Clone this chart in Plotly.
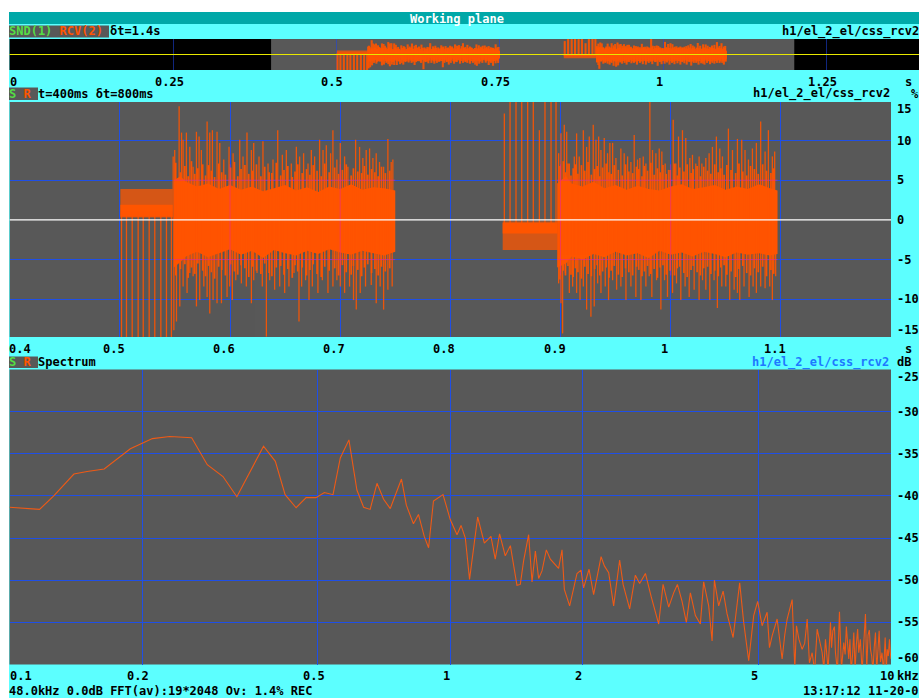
import plotly.graph_objects as go
import numpy as np

W, H = 919, 698
FONT = "DejaVu Sans Mono"
CYAN = "#5CFFFF"
TEAL = "#00A8A8"
GRAY = "#585858"
ORANGE = "#FF5500"
BLUE = "#1F4FE6"
GREEN = "#55DD44"
LINKBLUE = "#1E78FF"

# ---------------- data ----------------
overview_ticks = [0, 0.25, 0.5, 0.75, 1, 1.25]
overview_labels = ["0", "0.25", "0.5", "0.75", "1", "1.25"]
overview_span = 1.3907
view_start = 0.4
view_len = 0.8

time_ticks = [0.4, 0.5, 0.6, 0.7, 0.8, 0.9, 1.0, 1.1]
time_labels = ["0.4", "0.5", "0.6", "0.7", "0.8", "0.9", "1", "1.1"]
amp_ticks = [15, 10, 5, 0, -5, -10, -15]
amp_labels = ["15", "10", "5", "0", "-5", "-10", "-15"]
amp_range = [-14.75, 14.85]

freq_ticks = [0.1, 0.2, 0.5, 1, 2, 5, 10]
freq_labels = ["0.1", "0.2", "0.5", "1", "2", "5", "10"]
db_ticks = [-25, -30, -35, -40, -45, -50, -55, -60]
db_labels = ["-25", "-30", "-35", "-40", "-45", "-50", "-55", "-60"]

# burst 1 : lead-in comb and body
pre1_t = [0.5005, 0.5480]
pre1_hi = [3.9, 3.9]
pre1_lo = [0.3, 0.3]
pre1_core_hi = [1.9, 1.9]
pre1_core_lo = [0.4, 0.4]
pre1_spk_t = [0.5015, 0.5060, 0.5112, 0.5166, 0.5212, 0.5266, 0.5317, 0.5372, 0.5423, 0.5468]
pre1_spk_v = [-15.5, -15.5, -15.5, -15.5, -15.5, -15.5, -15.5, -15.5, -15.5, -15.5]

core1_t = [0.549, 0.555, 0.56, 0.57, 0.58, 0.59, 0.60, 0.61, 0.62, 0.63, 0.64, 0.65,
           0.66, 0.67, 0.68, 0.69, 0.70, 0.71, 0.72, 0.73, 0.74, 0.750]
core1_hi = [5.0, 5.5, 4.8, 4.2, 4.6, 3.9, 4.4, 3.8, 4.2, 3.6, 4.0, 4.4, 3.7, 4.1, 3.5,
            4.2, 3.9, 4.5, 3.8, 4.1, 4.0, 3.7]
core1_lo = [-6.0, -5.3, -4.6, -4.0, -4.7, -4.2, -3.7, -4.4, -3.9, -4.8, -3.8, -4.2, -4.5,
            -3.9, -4.3, -3.7, -4.1, -4.4, -3.9, -4.2, -4.5, -4.0]

b1_top_t = [0.5484, 0.5498, 0.5538, 0.5560, 0.5574, 0.5604, 0.5635, 0.5665, 0.5695, 0.5719,
            0.5740, 0.5792, 0.5816, 0.5840, 0.5882, 0.5907, 0.5943, 0.5991, 0.6028, 0.6088,
            0.6118, 0.6154, 0.6194, 0.6215, 0.6263, 0.6299, 0.6345, 0.6390, 0.6433, 0.6475,
            0.6511, 0.6556, 0.6602, 0.6632, 0.6668, 0.6708, 0.6738, 0.6768, 0.6813, 0.6844,
            0.6874, 0.6913, 0.6934, 0.6970, 0.7001, 0.7040, 0.7070, 0.7140, 0.7176, 0.7206,
            0.7236, 0.7267, 0.7297, 0.7327, 0.7357, 0.7394, 0.7433, 0.7463, 0.7478]
b1_top_v = [8.0, 8.8, 14.3, 11.0, 10.1, 11.0, 9.2, 6.7, 11.1, 10.5,
            8.8, 12.4, 11.0, 11.3, 11.1, 9.7, 7.6, 9.2, 8.4, 10.1,
            8.0, 11.0, 8.8, 9.7, 8.0, 9.9, 7.1, 7.6, 11.3, 8.2,
            8.8, 7.1, 9.2, 8.0, 8.4, 7.1, 8.8, 8.0, 10.1, 8.8,
            9.4, 8.4, 11.3, 7.6, 9.7, 8.0, 6.7, 10.1, 9.2, 7.8,
            8.8, 9.0, 7.8, 8.4, 7.3, 6.7, 10.2, 7.3, 7.6]
b1_bot_t = [0.5490, 0.5514, 0.5544, 0.5574, 0.5610, 0.5635, 0.5665, 0.5695, 0.5725, 0.5762,
            0.5792, 0.5816, 0.5846, 0.5882, 0.5922, 0.5973, 0.5997, 0.6021, 0.6052, 0.6103,
            0.6148, 0.6194, 0.6215, 0.6245, 0.6293, 0.6330, 0.6360, 0.6405, 0.6451, 0.6496,
            0.6535, 0.6581, 0.6626, 0.6650, 0.6686, 0.6717, 0.6747, 0.6798, 0.6838, 0.6889,
            0.6934, 0.6970, 0.7001, 0.7040, 0.7085, 0.7121, 0.7146, 0.7182, 0.7230, 0.7282,
            0.7327, 0.7363, 0.7394, 0.7433, 0.7472]
b1_bot_v = [-13.9, -12.8, -10.9, -8.4, -9.2, -6.7, -7.1, -10.9, -10.1, -8.4,
            -9.7, -11.8, -10.1, -10.5, -10.5, -9.7, -8.4, -10.1, -7.6, -8.0,
            -8.4, -10.5, -7.6, -6.7, -8.4, -14.7, -7.6, -8.8, -8.4, -9.2,
            -8.4, -6.7, -12.8, -8.4, -7.6, -10.1, -8.4, -9.2, -7.6, -9.2,
            -8.4, -7.6, -8.4, -9.2, -8.4, -10.1, -11.3, -9.2, -8.4, -8.2,
            -10.5, -8.4, -11.3, -8.8, -8.4]
b1_mid_t = [0.5507, 0.5550, 0.5590, 0.5620, 0.5650, 0.5680, 0.5708, 0.5752, 0.5778, 0.5805,
            0.5830, 0.5860, 0.5897, 0.5925, 0.5958, 0.6005, 0.6040, 0.6070, 0.6100, 0.6135,
            0.6170, 0.6205, 0.6240, 0.6280, 0.6315, 0.6355, 0.6380, 0.6420, 0.6460, 0.6490,
            0.6525, 0.6565, 0.6590, 0.6615, 0.6655, 0.6695, 0.6725, 0.6755, 0.6790, 0.6828,
            0.6860, 0.6900, 0.6950, 0.6985, 0.7020, 0.7055, 0.7100, 0.7120, 0.7160, 0.7195,
            0.7220, 0.7250, 0.7285, 0.7315, 0.7345, 0.7375, 0.7410, 0.7450]
b1_mid_hi = [7.2, 6.0, 6.8, 5.5, 7.4, 5.8, 6.5, 7.0, 5.6, 6.9,
             6.2, 5.4, 7.1, 6.0, 5.7, 6.6, 7.3, 5.5, 6.4, 6.9,
             5.8, 6.2, 7.0, 5.5, 6.7, 6.0, 5.9, 7.2, 5.6, 6.3,
             6.8, 5.4, 6.1, 7.0, 5.9, 6.4, 5.7, 6.9, 6.2, 5.5,
             7.1, 6.0, 6.6, 5.8, 6.3, 7.0, 5.6, 6.5, 6.1, 5.9,
             6.8, 5.7, 6.4, 6.0, 5.5, 6.7, 5.9, 6.2]
b1_mid_lo = [-7.0, -6.2, -5.6, -7.3, -6.0, -6.8, -5.5, -6.4, -7.1, -5.8,
             -6.6, -7.4, -5.9, -6.3, -7.0, -5.6, -6.5, -6.9, -5.7, -6.1,
             -7.2, -5.9, -6.4, -6.8, -5.5, -6.7, -7.1, -6.0, -5.8, -6.9,
             -6.2, -7.3, -5.7, -6.5, -6.0, -7.0, -6.3, -5.6, -6.8, -7.2,
             -5.9, -6.4, -6.1, -7.0, -5.7, -6.6, -6.9, -5.8, -6.3, -7.1,
             -6.0, -5.6, -6.7, -6.2, -7.0, -5.9, -6.5, -6.1]

# burst 2 : lead-in comb and body
pre2_t = [0.8475, 0.8975]
pre2_hi = [-0.2, -0.2]
pre2_lo = [-3.8, -3.8]
pre2_core_hi = [-0.4, -0.4]
pre2_core_lo = [-1.7, -1.7]
pre2_spk_t = [0.8490, 0.8542, 0.8596, 0.8648, 0.8702, 0.8753, 0.8808, 0.8859, 0.8914, 0.8959]
pre2_spk_v = [13.4, 15.5, 15.5, 15.5, 15.5, 15.5, 11.3, 15.5, 15.5, 15.5]

core2_t = [0.897, 0.905, 0.91, 0.92, 0.93, 0.94, 0.95, 0.96, 0.97, 0.98, 0.99, 1.00,
           1.01, 1.02, 1.03, 1.04, 1.05, 1.06, 1.07, 1.08, 1.09, 1.097]
core2_hi = [4.6, 5.5, 4.6, 4.2, 4.8, 4.0, 4.4, 3.8, 4.3, 3.9, 3.7, 4.2, 4.5, 3.9, 4.1,
            4.4, 3.8, 4.2, 3.9, 4.5, 4.0, 3.7]
core2_lo = [-6.0, -5.5, -4.6, -5.0, -4.3, -4.7, -4.0, -4.5, -4.2, -4.8, -3.9, -4.4, -4.1,
            -4.6, -4.0, -4.3, -4.7, -4.1, -4.4, -4.2, -4.5, -4.3]

b2_top_t = [0.8983, 0.9004, 0.9034, 0.9056, 0.9080, 0.9125, 0.9146, 0.9170, 0.9207, 0.9237,
            0.9261, 0.9297, 0.9322, 0.9346, 0.9367, 0.9397, 0.9427, 0.9448, 0.9473, 0.9503,
            0.9548, 0.9578, 0.9609, 0.9639, 0.9669, 0.9699, 0.9720, 0.9751, 0.9775, 0.9811,
            0.9835, 0.9866, 0.9896, 0.9920, 0.9950, 0.9980, 1.0023, 1.0047, 1.0071, 1.0107,
            1.0137, 1.0174, 1.0198, 1.0228, 1.0258, 1.0283, 1.0319, 1.0349, 1.0379, 1.0415,
            1.0446, 1.0470, 1.0524, 1.0561, 1.0606, 1.0645, 1.0675, 1.0706, 1.0742, 1.0778,
            1.0817, 1.0857, 1.0887, 1.0923, 1.0944]
b2_top_v = [8.4, 10.9, 12.0, 11.1, 7.1, 8.0, 10.9, 8.0, 11.3, 9.2,
            10.5, 12.0, 10.1, 10.5, 8.8, 10.3, 8.4, 9.7, 9.7, 7.8,
            9.0, 8.4, 8.0, 7.3, 10.7, 7.6, 7.8, 8.0, 7.1, 15.5,
            8.8, 8.4, 9.0, 8.6, 7.1, 6.3, 12.6, 7.1, 10.5, 11.3,
            10.3, 7.8, 8.2, 7.1, 8.0, 7.1, 7.8, 8.4, 9.2, 10.5,
            9.0, 8.0, 11.5, 8.8, 10.2, 10.1, 8.8, 7.6, 9.0, 9.7,
            12.4, 8.6, 11.3, 8.0, 8.6]
b2_bot_t = [0.8983, 0.9004, 0.9019, 0.9044, 0.9080, 0.9110, 0.9146, 0.9177, 0.9207, 0.9237,
            0.9276, 0.9306, 0.9337, 0.9367, 0.9406, 0.9436, 0.9473, 0.9509, 0.9548, 0.9594,
            0.9639, 0.9684, 0.9730, 0.9775, 0.9805, 0.9829, 0.9872, 0.9911, 0.9944, 0.9971,
            1.0017, 1.0053, 1.0092, 1.0131, 1.0168, 1.0213, 1.0258, 1.0289, 1.0319, 1.0355,
            1.0394, 1.0424, 1.0464, 1.0500, 1.0536, 1.0576, 1.0606, 1.0627, 1.0666, 1.0712,
            1.0748, 1.0778, 1.0817, 1.0857, 1.0899, 1.0923, 1.0953]
b2_bot_v = [-8.0, -10.5, -14.3, -6.7, -9.2, -8.4, -9.2, -10.1, -8.4, -11.3,
            -12.2, -10.9, -8.0, -9.2, -8.4, -10.1, -7.6, -8.8, -8.4, -10.1,
            -8.4, -9.7, -10.1, -8.4, -7.1, -9.7, -7.6, -11.3, -7.6, -9.7,
            -9.2, -8.0, -10.1, -8.4, -9.7, -8.8, -10.1, -7.6, -8.8, -10.1,
            -7.6, -11.1, -8.4, -8.4, -10.1, -8.8, -9.2, -10.1, -8.4, -9.7,
            -8.4, -9.2, -8.4, -8.6, -8.4, -10.1, -7.1]
b2_mid_t = [0.8995, 0.9025, 0.9045, 0.9068, 0.9095, 0.9115, 0.9135, 0.9158, 0.9190, 0.9220,
            0.9250, 0.9280, 0.9310, 0.9332, 0.9357, 0.9382, 0.9415, 0.9440, 0.9460, 0.9488,
            0.9525, 0.9560, 0.9590, 0.9620, 0.9655, 0.9690, 0.9710, 0.9740, 0.9762, 0.9790,
            0.9820, 0.9850, 0.9880, 0.9905, 0.9930, 0.9960, 0.9995, 1.0035, 1.0060, 1.0082,
            1.0120, 1.0150, 1.0185, 1.0205, 1.0240, 1.0270, 1.0300, 1.0335, 1.0365, 1.0400,
            1.0432, 1.0455, 1.0485, 1.0510, 1.0548, 1.0590, 1.0620, 1.0655, 1.0690, 1.0725,
            1.0760, 1.0795, 1.0835, 1.0870, 1.0910, 1.0935]
b2_mid_hi = [6.8, 7.4, 6.0, 7.1, 5.6, 6.5, 7.0, 5.8, 6.9, 6.2,
             7.3, 5.7, 6.4, 6.8, 5.5, 6.6, 7.1, 6.0, 5.8, 6.9,
             6.3, 5.6, 7.0, 6.1, 5.9, 6.7, 6.4, 5.5, 6.8, 6.2,
             7.2, 5.7, 6.5, 6.0, 6.9, 5.8, 6.3, 7.1, 5.6, 6.6,
             6.1, 7.0, 5.9, 6.4, 6.8, 5.5, 6.7, 6.2, 5.8, 7.0,
             6.0, 6.5, 5.7, 6.9, 6.3, 5.9, 7.1, 6.1, 5.6, 6.8,
             6.4, 5.8, 7.0, 6.2, 5.9, 6.5]
b2_mid_lo = [-7.5, -6.4, -7.0, -5.8, -6.9, -7.2, -6.1, -6.6, -7.4, -5.9,
             -6.8, -7.1, -6.2, -5.7, -7.0, -6.5, -6.0, -7.3, -6.4, -5.8,
             -6.9, -7.2, -6.1, -6.6, -7.0, -5.9, -6.3, -7.1, -6.5, -5.8,
             -6.8, -6.2, -7.3, -6.0, -5.7, -6.9, -6.4, -7.0, -6.1, -5.9,
             -6.7, -7.2, -6.3, -5.8, -6.6, -7.0, -6.1, -5.9, -6.8, -6.4,
             -7.1, -6.0, -5.7, -6.9, -6.5, -7.2, -6.2, -5.8, -6.7, -7.0,
             -6.1, -6.6, -5.9, -7.1, -6.3, -6.8]

# averaged spectrum (kHz, dB)
spec_f = [0.100, 0.117, 0.126, 0.140, 0.150, 0.164, 0.188, 0.211, 0.231, 0.259,
          0.281, 0.305, 0.328, 0.377, 0.401, 0.422, 0.447, 0.471, 0.496, 0.518,
          0.542, 0.563, 0.589, 0.614, 0.636, 0.658, 0.682, 0.706, 0.731, 0.775,
          0.795, 0.825, 0.847, 0.873, 0.893, 0.916, 0.963, 1.000, 1.036, 1.058,
          1.082, 1.106, 1.154, 1.195, 1.237, 1.265, 1.294, 1.333, 1.369, 1.417,
          1.442, 1.467, 1.506, 1.533, 1.560, 1.587, 1.615, 1.652, 1.687, 1.761,
          1.793, 1.815, 1.866, 1.939, 1.980, 2.007, 2.065, 2.115, 2.199, 2.237,
          2.288, 2.348, 2.423, 2.467, 2.553, 2.630, 2.690, 2.772, 2.855, 2.971,
          3.040, 3.131, 3.213, 3.276, 3.357, 3.433, 3.506, 3.599, 3.694, 3.758,
          3.858, 3.927, 3.975, 4.065, 4.160, 4.247, 4.383, 4.536, 4.632, 4.755,
          4.881, 4.984, 5.100, 5.235, 5.300, 5.374, 5.516, 5.662, 5.740, 5.813,
          5.967, 6.050, 6.103, 6.180, 6.287, 6.370, 6.454, 6.530, 6.624, 6.710,
          6.800, 6.890, 6.979, 7.040, 7.101, 7.200, 7.289, 7.330, 7.380, 7.440,
          7.482, 7.560, 7.640, 7.720, 7.814, 7.870, 7.920, 8.020, 8.070, 8.120,
          8.180, 8.233, 8.290, 8.340, 8.400, 8.450, 8.520, 8.600, 8.680, 8.751,
          8.810, 8.870, 8.930, 8.984, 9.040, 9.100, 9.160, 9.221, 9.280, 9.340,
          9.400, 9.466, 9.540, 9.620, 9.700, 9.760, 9.804, 9.860, 9.920, 9.960,
          10.000]
spec_db = [-41.35, -41.6, -40.0, -37.4, -37.1, -36.8, -34.4, -33.2, -32.95, -33.1,
           -36.3, -37.7, -40.1, -34.1, -35.9, -39.85, -41.4, -40.2, -40.2, -39.6,
           -39.85, -35.5, -33.35, -39.3, -41.35, -41.6, -38.5, -40.4, -41.5, -38.0,
           -41.1, -43.3, -42.2, -44.8, -46.15, -40.6, -39.85, -42.8, -44.6, -43.5,
           -45.0, -49.9, -42.5, -45.6, -44.8, -47.5, -44.5, -47.1, -45.9, -50.6,
           -50.5, -47.7, -44.6, -50.2, -46.55, -49.8, -48.9, -46.4, -47.5, -48.6,
           -46.4, -51.1, -53.05, -49.2, -48.8, -50.9, -48.7, -51.7, -47.2, -48.3,
           -49.1, -53.05, -47.6, -50.5, -53.4, -49.4, -50.4, -49.2, -51.9, -55.2,
           -50.5, -53.2, -51.5, -50.5, -52.5, -55.0, -51.5, -54.2, -55.2, -50.2,
           -53.05, -57.2, -50.0, -53.05, -51.3, -54.0, -56.8, -50.3, -55.0, -59.55,
           -54.2, -52.5, -55.4, -53.8, -58.0, -56.6, -54.6, -59.35, -56.5, -54.6,
           -52.3, -60.5, -55.4, -57.0, -58.2, -57.5, -54.6, -59.8, -58.6, -60.8,
           -55.8, -57.2, -58.6, -60.5, -57.0, -60.6, -55.0, -58.0, -56.0, -55.5,
           -58.6, -60.8, -53.75, -60.5, -57.4, -58.8, -55.5, -59.35, -57.0, -60.8,
           -58.9, -56.2, -60.7, -57.8, -55.8, -58.6, -57.0, -60.8, -57.5, -54.0,
           -60.6, -56.5, -55.9, -58.2, -59.0, -60.8, -58.0, -56.2, -60.7, -57.5,
           -56.0, -59.7, -58.6, -60.8, -56.8, -60.6, -58.2, -59.0, -57.0, -58.5,
           -59.35]

# ---------------- helpers ----------------
def px(x):
    return x / W


def py(y):
    return 1 - y / H


def spikes(ts, vs, base):
    xs, ys = [], []
    for t, v in zip(ts, vs):
        xs += [t, t, None]
        ys += [base, v, None]
    return xs, ys


def bars(ts, hi, lo):
    xs, ys = [], []
    for t, a, b in zip(ts, hi, lo):
        xs += [t, t, None]
        ys += [b, a, None]
    return xs, ys


def band(ts, hi, lo):
    return list(ts) + list(ts)[::-1], list(hi) + list(lo)[::-1]


fig = go.Figure()

for xa, ya, lw in [("x", "y", 2.1), ("x2", "y2", 1.3)]:
    for ts, hi, lo, op in [(pre1_t, pre1_hi, pre1_lo, 0.75), (pre1_t, pre1_core_hi, pre1_core_lo, 1.0),
                           (pre2_t, pre2_hi, pre2_lo, 0.75), (pre2_t, pre2_core_hi, pre2_core_lo, 1.0),
                           (core1_t, core1_hi, core1_lo, 1.0), (core2_t, core2_hi, core2_lo, 1.0)]:
        bx, by = band(ts, hi, lo)
        fig.add_trace(go.Scatter(x=bx, y=by, xaxis=xa, yaxis=ya, mode="lines", fill="toself",
                                 fillcolor=ORANGE, opacity=op, line=dict(width=0, color=ORANGE),
                                 hoverinfo="skip"))
    for ts, hi, lo in [(b1_mid_t, b1_mid_hi, b1_mid_lo), (b2_mid_t, b2_mid_hi, b2_mid_lo)]:
        mx, my = bars(ts, hi, lo)
        fig.add_trace(go.Scatter(x=mx, y=my, xaxis=xa, yaxis=ya, mode="lines",
                                 line=dict(width=lw + 0.4, color=ORANGE), opacity=0.95,
                                 hoverinfo="skip"))
    for ts, vs, base in [(pre1_spk_t, pre1_spk_v, 1.0), (pre2_spk_t, pre2_spk_v, -1.0),
                         (b1_top_t, b1_top_v, 0.0), (b1_bot_t, b1_bot_v, 0.0),
                         (b2_top_t, b2_top_v, 0.0), (b2_bot_t, b2_bot_v, 0.0)]:
        sx, sy = spikes(ts, vs, base)
        fig.add_trace(go.Scatter(x=sx, y=sy, xaxis=xa, yaxis=ya, mode="lines",
                                 line=dict(width=lw, color=ORANGE), opacity=0.9,
                                 hoverinfo="skip"))

fig.add_trace(go.Scatter(x=spec_f, y=spec_db, xaxis="x3", yaxis="y3", mode="lines",
                         line=dict(color="#EE5A16", width=1.1), hoverinfo="skip"))

# ---------------- axes ----------------
common = dict(showline=False, zeroline=False, ticks="", showticklabels=False, fixedrange=True)
fig.update_layout(
    width=W, height=H, margin=dict(l=0, r=0, t=0, b=0),
    paper_bgcolor=CYAN, plot_bgcolor=GRAY, showlegend=False,
    xaxis=dict(domain=[px(9.5), 1], range=[0, overview_span], anchor="y",
               tickvals=overview_ticks[1:], showgrid=True, gridcolor="rgba(30,70,230,0.55)",
               gridwidth=1, **common),
    yaxis=dict(domain=[py(70), py(39)], range=[-15.5, 15.5], anchor="x", showgrid=False, **common),
    xaxis2=dict(domain=[px(9.7), px(891)], range=[view_start, view_start + view_len], anchor="y2",
                tickvals=time_ticks[1:], showgrid=True, gridcolor=BLUE, gridwidth=1, **common),
    yaxis2=dict(domain=[py(337), py(102)], range=amp_range, anchor="x2",
                tickvals=[v for v in amp_ticks if v != 0], showgrid=True, gridcolor=BLUE,
                gridwidth=1, **common),
    xaxis3=dict(domain=[px(9.5), px(891)], type="log",
                range=[np.log10(freq_ticks[0]), np.log10(freq_ticks[-1])], anchor="y3",
                tickvals=freq_ticks[1:-1], showgrid=True, gridcolor=BLUE, gridwidth=1, **common),
    yaxis3=dict(domain=[py(664.5), py(369.5)], range=[db_ticks[-1], db_ticks[0]], anchor="x3",
                tickvals=db_ticks[1:-1], showgrid=True, gridcolor=BLUE, gridwidth=1, **common),
)

# ---------------- shapes ----------------
shapes = [
    dict(type="rect", xref="paper", yref="paper", x0=0, x1=px(9), y0=0, y1=1,
         fillcolor="white", line=dict(width=0), layer="above"),
    dict(type="rect", xref="paper", yref="paper", x0=0, x1=1, y0=py(12), y1=1,
         fillcolor="white", line=dict(width=0), layer="above"),
    dict(type="rect", xref="paper", yref="paper", x0=px(9), x1=1, y0=py(24), y1=py(12),
         fillcolor=TEAL, line=dict(width=0), layer="above"),
    dict(type="rect", xref="paper", yref="paper", x0=px(9), x1=px(109), y0=py(37.5), y1=py(25.5),
         fillcolor=GRAY, line=dict(width=0), layer="above"),
    dict(type="rect", xref="paper", yref="paper", x0=px(9), x1=px(38), y0=py(100), y1=py(87.5),
         fillcolor=GRAY, line=dict(width=0), layer="above"),
    dict(type="rect", xref="paper", yref="paper", x0=px(9), x1=px(38), y0=py(368), y1=py(356.5),
         fillcolor=GRAY, line=dict(width=0), layer="above"),
    dict(type="rect", xref="x", yref="y domain", x0=0, x1=view_start, y0=0, y1=1,
         fillcolor="black", line=dict(width=0), layer="below"),
    dict(type="rect", xref="x", yref="y domain", x0=view_start + view_len, x1=overview_span, y0=0, y1=1,
         fillcolor="black", line=dict(width=0), layer="below"),
]
GRID_OVER = "rgba(235,40,150,0.55)"
for t0, t1 in [(core1_t[0], core1_t[-1]), (core2_t[0], core2_t[-1])]:
    for g in [-5, 5]:
        shapes.append(dict(type="line", xref="x2", yref="y2", x0=t0, x1=t1, y0=g, y1=g,
                           line=dict(color=GRID_OVER, width=1), layer="above"))
    for g in time_ticks:
        if t0 < g < t1:
            shapes.append(dict(type="line", xref="x2", yref="y2", x0=g, x1=g, y0=-7, y1=7,
                               line=dict(color=GRID_OVER, width=1), layer="above"))
shapes += [
    dict(type="line", xref="x domain", yref="y", x0=0, x1=1, y0=0, y1=0,
         line=dict(color="#E8E800", width=1), layer="above"),
    dict(type="line", xref="x2 domain", yref="y2", x0=0, x1=1, y0=0, y1=0,
         line=dict(color="white", width=1.3), layer="above"),
]
fig.update_layout(shapes=shapes)

# ---------------- text ----------------
ann = []


def text(t, x, y, xanchor="left", color="black", xref="paper", yref="paper",
         xshift=0, yanchor="middle"):
    ann.append(dict(text="<b>" + t + "</b>", x=x, y=y, xref=xref, yref=yref,
                    xanchor=xanchor, yanchor=yanchor, showarrow=False, xshift=xshift,
                    borderpad=0, borderwidth=0,
                    font=dict(family=FONT, size=12, color=color)))


text("Working plane", px(457), py(18.5), xanchor="center", color="white")
text('<span style="color:%s">SND(1)</span> <span style="color:%s">RCV(2)</span>' % (GREEN, ORANGE),
     px(9), py(31.5))
text("δt=1.4s", px(110), py(31.5))
text("h1/el_2_el/css_rcv2", px(919), py(31.5), xanchor="right")

text('<span style="color:%s">S</span> <span style="color:%s">R</span>' % (GREEN, ORANGE), px(9), py(94))
text("t=400ms δt=800ms", px(38), py(94))
text("h1/el_2_el/css_rcv2", px(890), py(94), xanchor="right")
text("%", px(915), py(94), xanchor="center")

text('<span style="color:%s">S</span> <span style="color:%s">R</span>' % (GREEN, ORANGE), px(9), py(362))
text("Spectrum", px(38), py(362))
text("h1/el_2_el/css_rcv2", px(889), py(362), xanchor="right", color=LINKBLUE)
text("dB", px(904), py(362), xanchor="center")

for i, (v, lab) in enumerate(zip(overview_ticks, overview_labels)):
    text(lab, v, py(82), xref="x", xanchor="left" if i == 0 else "center",
         xshift=0 if i == 0 else -4)
text("s", px(908), py(82), xanchor="center")

for i, (v, lab) in enumerate(zip(time_ticks, time_labels)):
    text(lab, v, py(349), xref="x2", xanchor="left" if i == 0 else "center",
         xshift=-1 if i == 0 else -6)
text("s", px(908), py(349), xanchor="center")

for i, (v, lab) in enumerate(zip(amp_ticks, amp_labels)):
    ya = "top" if i == 0 else ("bottom" if i == len(amp_ticks) - 1 else "middle")
    yv = min(max(v, amp_range[0]), amp_range[1])
    text(lab, px(897), yv, yref="y2", yanchor=ya)

for i, (v, lab) in enumerate(zip(freq_ticks, freq_labels)):
    text(lab, np.log10(v), py(676), xref="x3", xanchor="left" if i == 0 else "center",
         xshift=0 if i == 0 else -4)
text("kHz", px(897), py(676))

for i, (v, lab) in enumerate(zip(db_ticks, db_labels)):
    ya = "top" if i == 0 else ("bottom" if i == len(db_ticks) - 1 else "middle")
    text(lab, px(897), v, yref="y3", yanchor=ya)

text("48.0kHz 0.0dB FFT(av):19*2048 Ov: 1.4% REC", px(9), py(691))
text("13:17:12 11-20-0", px(919), py(691), xanchor="right")

fig.update_layout(annotations=ann)

page_fix = ("document.body.style.margin='0';document.body.style.overflow='hidden';"
            "document.documentElement.style.overflow='hidden';")
fig.write_html("out.html", config={"displayModeBar": False}, post_script=page_fix)
